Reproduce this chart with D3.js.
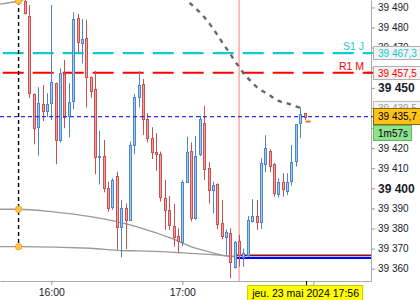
<!DOCTYPE html>
<html>
<head>
<meta charset="utf-8">
<script src="https://cdn.jsdelivr.net/npm/d3@7"></script>
<style>
  body { margin: 0; background: #fff; }
  svg { display: block; font-family: "Liberation Sans", Arial, sans-serif; }
</style>
</head>
<body>
<div id="chart"><svg width="420" height="300"></svg></div>
<script>
// 2-minute candles, DJ 23 mai 2024
const day = '2024-05-23';
const times = ['15:48','15:50','15:52','15:54','15:56','15:58','16:00','16:02','16:04','16:06','16:08','16:10','16:12','16:14','16:16','16:18','16:20','16:22','16:24','16:26','16:28','16:30','16:32','16:34','16:36','16:38','16:40','16:42','16:44','16:46','16:48','16:50','16:52','16:54','16:56','16:58','17:00','17:02','17:04','17:06','17:08','17:10','17:12','17:14','17:16','17:18','17:20','17:22','17:24','17:26','17:28','17:30','17:32','17:34','17:36','17:38','17:40','17:42','17:44','17:46','17:48','17:50','17:52','17:54','17:56'];
const opens = [39493.0,39485.8,39446.8,39430.4,39441.8,39438.7,39442.3,39452.3,39424.1,39456.9,39436.0,39443.5,39484.6,39472.2,39474.7,39455.3,39449.3,39416.0,39416.1,39400.0,39390.6,39406.2,39381.0,39390.1,39384.3,39421.6,39445.3,39451.8,39434.4,39424.9,39417.9,39417.1,39395.1,39389.3,39381.3,39376.3,39373.5,39403.0,39418.6,39385.1,39417.1,39432.7,39409.9,39399.2,39402.2,39382.6,39376.0,39377.6,39361.1,39373.8,39366.0,39366.9,39383.8,39386.3,39383.1,39412.0,39418.6,39412.1,39397.0,39403.3,39398.8,39403.8,39413.8,39432.4,39437.3];
const highs = [39496.0,39491.2,39447.2,39450.3,39451.4,39447.3,39491.2,39452.6,39459.7,39463.9,39452.3,39487.6,39486.8,39484.3,39483.8,39455.6,39458.4,39428.6,39424.1,39403.3,39405.0,39408.3,39394.2,39392.5,39423.3,39447.0,39458.4,39454.4,39437.3,39430.4,39427.4,39418.3,39404.2,39396.2,39392.2,39380.1,39404.2,39425.7,39422.9,39426.1,39436.0,39441.0,39413.0,39403.3,39402.5,39394.2,39379.6,39380.1,39373.8,39376.8,39370.0,39386.3,39394.6,39394.2,39415.0,39426.4,39419.4,39412.5,39405.0,39407.5,39407.5,39421.6,39432.0,39440.3,39437.3];
const lows = [39486.5,39444.8,39421.9,39416.3,39433.5,39435.4,39434.0,39412.0,39422.8,39429.9,39425.4,39439.3,39467.7,39462.2,39440.3,39445.1,39407.0,39402.0,39398.0,39388.4,39389.3,39369.4,39365.7,39369.7,39384.0,39416.9,39440.3,39426.6,39422.8,39414.6,39408.8,39393.4,39379.3,39379.3,39371.0,39367.7,39371.3,39402.8,39383.5,39384.3,39416.0,39404.2,39392.5,39387.6,39379.6,39374.6,39366.9,39355.3,39360.2,39361.1,39361.0,39366.0,39383.0,39379.3,39379.8,39408.0,39408.0,39395.9,39395.4,39395.9,39396.7,39401.3,39410.8,39424.9,39434.0];
const closes = [39487.1,39447.6,39429.9,39442.3,39438.7,39441.8,39452.8,39424.1,39457.2,39435.4,39442.8,39484.1,39472.7,39474.2,39455.3,39448.3,39415.5,39416.3,39400.0,39390.1,39404.2,39381.0,39390.1,39384.3,39421.6,39445.3,39451.4,39434.4,39424.9,39418.3,39416.9,39395.6,39389.3,39381.8,39375.7,39374.0,39403.3,39417.9,39385.1,39416.3,39434.4,39409.5,39399.2,39401.6,39382.3,39376.5,39378.1,39363.5,39373.5,39366.9,39367.7,39384.3,39386.3,39383.5,39412.5,39419.9,39411.3,39397.5,39403.0,39399.5,39403.3,39413.3,39432.0,39436.8,39435.7];

// grey dotted indicator
const dotTimes = ['17:00','17:02','17:04','17:06','17:08','17:10','17:12','17:14','17:16','17:18','17:20','17:22','17:24','17:26','17:28','17:30','17:32','17:34','17:36','17:38','17:40','17:42','17:44','17:46','17:48','17:50','17:52','17:54','17:56'];
const dotValues = [39495.4,39493.5,39491.6,39489.6,39487.6,39485.2,39482.5,39479.6,39476.4,39473.1,39469.9,39466.9,39463.4,39460.5,39457.3,39454.8,39452.6,39450.5,39448.9,39447.6,39446.3,39444.8,39443.6,39442.8,39442.3,39441.5,39440.8,39440.1,39439.5];

// grey envelope curves
const bandTopTimes = ['15:36','15:45','15:52'];
const bandTopValues = [39491.6,39493.2,39495.5];
const bandMidTimes = ['15:36','15:45','16:00','16:18','16:30','16:40','16:56','17:04','17:12','17:20','17:24'];
const bandMidValues = [39389.6,39389.6,39388.4,39385.9,39383.4,39380.6,39374.7,39371.0,39368.5,39366.4,39366.0];
const bandLowTimes = ['15:36','15:45','16:18','16:32','16:40','16:59','17:20','17:24'];
const bandLowValues = [39371.0,39371.0,39370.2,39369.0,39368.9,39368.0,39366.5,39366.2];
const anchorTime = '15:45';

// horizontal levels
const levelNames = ['S1 J', 'R1 M'];
const levelValues = [39467.3, 39457.5];
const stopTime = '17:24';
const stopValues = [39366.7, 39365.4];
const markerTime = '17:26';
const askValue = 39433.2;
const indicatorLast = 39439.5;
const crossTime = '17:56';
const crossPrice = 39435.7;
const countdown = '1m57s';

// labels under the price tags are not visible on the original, only their ticks
const yTicks = [39360,39370,39380,39390,39400,39410,39420,39430,39440,39450,39460,39470,39480,39490];
const yHidden = [39430,39440,39460];

const plotW = 371, plotH = 281;
const parse = d3.timeParse('%Y-%m-%d %H:%M:%S');
const at = s => parse(day + ' ' + (s.length === 5 ? s + ':00' : s));

const loc = d3.formatLocale({decimal: ',', thousands: ' ', grouping: [3], currency: ['', ' €']});
const fmt0 = loc.format(',.0f');
const fmt1 = loc.format(',.1f');
const frTime = d3.timeFormatLocale({
    dateTime: '%A %e %B %Y à %X', date: '%d/%m/%Y', time: '%H:%M:%S', periods: ['', ''],
    days: ['dimanche','lundi','mardi','mercredi','jeudi','vendredi','samedi'],
    shortDays: ['dim.','lun.','mar.','mer.','jeu.','ven.','sam.'],
    months: ['janvier','février','mars','avril','mai','juin','juillet','août','septembre','octobre','novembre','décembre'],
    shortMonths: ['janv.','févr.','mars','avr.','mai','juin','juil.','août','sept.','oct.','nov.','déc.']
});

const x = d3.scaleTime().domain([at('15:36:30'), at('18:26:25')]).range([0, plotW]);
const y = d3.scaleLinear().domain([39353.9, 39493.7]).range([plotH, 0]);

const candles = times.map((t, i) => ({t: at(t), o: opens[i], h: highs[i], l: lows[i], c: closes[i]}));

const svg = d3.select('#chart').select('svg');
svg.append('rect').attr('width', 420).attr('height', 300).attr('fill', '#fff');

svg.append('defs').append('clipPath').attr('id', 'plotClip')
    .append('rect').attr('x', 0).attr('y', 0).attr('width', plotW).attr('height', plotH);

let plot = svg.append('g').attr('clip-path', 'url(#plotClip)');

// vertical pink marker
plot.append('line')
    .attr('x1', x(at(markerTime))).attr('x2', x(at(markerTime)))
    .attr('y1', 0).attr('y2', plotH)
    .attr('stroke', '#ff9a9a').attr('stroke-width', 1.3);

// pivot levels
const levelColors = ['#11cccc', '#ff0000'];
levelValues.forEach((v, i) => {
    plot.append('line')
        .attr('x1', 0).attr('x2', plotW)
        .attr('y1', y(v)).attr('y2', y(v))
        .attr('stroke', levelColors[i]).attr('stroke-width', 2.2)
        .attr('stroke-dasharray', '21,9').attr('stroke-dashoffset', 27.3);
    plot.append('text')
        .attr('x', 364).attr('y', y(v) - 3)
        .attr('text-anchor', 'end')
        .attr('font-size', 10.5)
        .attr('fill', levelColors[i])
        .text(levelNames[i]);
});

// envelopes
const line = (ts, vs) => d3.line().curve(d3.curveMonotoneX)(ts.map((t, i) => [x(at(t)), y(vs[i])]));
[[bandTopTimes, bandTopValues], [bandMidTimes, bandMidValues], [bandLowTimes, bandLowValues]].forEach(b => {
    plot.append('path').attr('d', line(b[0], b[1]))
        .attr('fill', 'none').attr('stroke', '#9a9a9a').attr('stroke-width', 1.3);
});

// stop lines
plot.append('line')
    .attr('x1', x(at(stopTime))).attr('x2', plotW)
    .attr('y1', y(stopValues[0])).attr('y2', y(stopValues[0]))
    .attr('stroke', '#8b1010').attr('stroke-width', 1.3);
plot.append('line')
    .attr('x1', x(at(stopTime))).attr('x2', plotW)
    .attr('y1', y(stopValues[1])).attr('y2', y(stopValues[1]))
    .attr('stroke', '#0000ff').attr('stroke-width', 2.4);

// anchor dashed line + dots
const ax = x(at(anchorTime));
plot.append('line')
    .attr('x1', ax).attr('x2', ax)
    .attr('y1', y(bandTopValues[1])).attr('y2', y(bandLowValues[1]))
    .attr('stroke', '#000').attr('stroke-width', 1.4).attr('stroke-dasharray', '4,3');

// candles
let cg = plot.append('g');
candles.forEach(d => {
    const cx = Math.round(x(d.t));
    const up = d.c >= d.o;
    const edge = up ? '#4a86c8' : '#c85050';
    const fill = up ? '#a3c9f0' : '#f2a0a0';
    cg.append('line')
        .attr('x1', cx + 0.5).attr('x2', cx + 0.5)
        .attr('y1', y(d.h)).attr('y2', y(d.l))
        .attr('stroke', edge).attr('stroke-width', 1);
    const top = Math.round(y(Math.max(d.o, d.c))) + 0.5;
    const bot = Math.round(y(Math.min(d.o, d.c))) + 0.5;
    cg.append('rect')
        .attr('x', cx - 0.5).attr('y', top)
        .attr('width', 2).attr('height', Math.max(1, bot - top))
        .attr('fill', fill).attr('stroke', edge).attr('stroke-width', 1);
});

// dotted indicator
plot.append('path').attr('d', line(dotTimes, dotValues))
    .attr('fill', 'none').attr('stroke', '#666').attr('stroke-width', 2.4)
    .attr('stroke-dasharray', '4.5,5');

// ask marker
const lx = x(at(crossTime));
plot.append('line')
    .attr('x1', lx + 1).attr('x2', lx + 6)
    .attr('y1', y(askValue)).attr('y2', y(askValue))
    .attr('stroke', '#ff7000').attr('stroke-width', 2);

[bandTopValues[1], bandMidValues[1], bandLowValues[1]].forEach(v => {
    plot.append('circle').attr('cx', ax).attr('cy', y(v)).attr('r', 3.2)
        .attr('fill', '#ffc640').attr('stroke', '#f0a020').attr('stroke-width', 0.8);
});

// axes
let yAxis = svg.append('g').attr('transform', `translate(${plotW},0)`)
    .call(d3.axisRight(y).tickValues(yTicks).tickSize(4).tickSizeOuter(0).tickPadding(3).tickFormat(fmt0));
yAxis.select('.domain').attr('stroke', '#aaa');
yAxis.selectAll('.tick line').attr('stroke', '#999');
yAxis.selectAll('.tick text')
    .attr('fill', '#1a1a2a')
    .attr('font-family', '"Liberation Sans", Arial, sans-serif')
    .attr('font-size', d => d % 50 === 0 ? 12 : 10)
    .attr('font-weight', d => d % 50 === 0 ? 'bold' : 'normal');
yAxis.selectAll('.tick text').filter(d => yHidden.includes(d)).remove();

let xAxis = svg.append('g').attr('transform', `translate(0,${plotH})`)
    .call(d3.axisBottom(x).ticks(d3.timeHour.every(1)).tickSize(4).tickSizeOuter(0).tickPadding(4)
        .tickFormat(d3.timeFormat('%H:%M')));
xAxis.select('.domain').attr('stroke', '#aaa');
xAxis.selectAll('.tick line').attr('stroke', '#999');
xAxis.selectAll('.tick text')
    .attr('fill', '#1a1a2a')
    .attr('font-family', '"Liberation Sans", Arial, sans-serif')
    .attr('font-size', 10.5);
// the 18:00 label sits under the date tag
xAxis.selectAll('.tick text').filter(d => d >= at('18:00')).remove();

// crosshair
svg.append('line')
    .attr('x1', 0).attr('x2', plotW + 2)
    .attr('y1', y(crossPrice)).attr('y2', y(crossPrice))
    .attr('stroke', '#3030e0').attr('stroke-width', 1.2).attr('stroke-dasharray', '4,3');
svg.append('line')
    .attr('x1', Math.round(lx) + 1.5).attr('x2', Math.round(lx) + 1.5)
    .attr('y1', plotH).attr('y2', plotH + 4)
    .attr('stroke', '#000').attr('stroke-width', 1);

// price tags on the right
function tag(v, top, h, w, bg, border, color, label) {
    svg.append('rect').attr('x', plotW + 2.5).attr('y', top).attr('width', w).attr('height', h)
        .attr('fill', bg).attr('stroke', border).attr('stroke-width', 1);
    svg.append('text').attr('x', plotW + 7).attr('y', top + h / 2 + 3.6)
        .attr('font-size', 10).attr('fill', color).text(label);
}
levelValues.forEach((v, i) => {
    svg.append('line').attr('x1', plotW - 4).attr('x2', plotW + 3)
        .attr('y1', y(v)).attr('y2', y(v)).attr('stroke', levelColors[i]).attr('stroke-width', 2);
    tag(v, Math.round(y(v)) - 6.5, 13, 50, '#f3f3f3', '#b0b0b0', levelColors[i], fmt1(v));
});
tag(indicatorLast, Math.round(y(indicatorLast)) - 7.5, 13, 50, '#f6f6f6', '#bbbbbb', '#9a9a9a', fmt1(indicatorLast));
tag(crossPrice, Math.round(y(crossPrice)) - 8.5, 16, 50, '#ffc21a', '#8a6a00', '#000', fmt1(crossPrice));
tag(crossPrice, Math.round(y(crossPrice)) + 8.5, 15, 38, '#8fe08f', '#5cb85c', '#000', countdown);

// date tag under the crosshair
const dateText = frTime.format('%a %e %B %Y %H:%M')(at(crossTime)).replace(/\s+/g, ' ');
const dt = svg.append('text')
    .attr('x', lx + 1).attr('y', plotH + 15.5)
    .attr('text-anchor', 'middle')
    .attr('font-size', 10.5).attr('fill', '#000')
    .text(dateText);
const bb = dt.node().getBBox();
svg.insert('rect', function() { return dt.node(); })
    .attr('x', bb.x - 3.5).attr('y', plotH + 4.5)
    .attr('width', bb.width + 7).attr('height', 15)
    .attr('fill', '#ffff00').attr('stroke', '#c8c800').attr('stroke-width', 1);
</script>
</body>
</html>
